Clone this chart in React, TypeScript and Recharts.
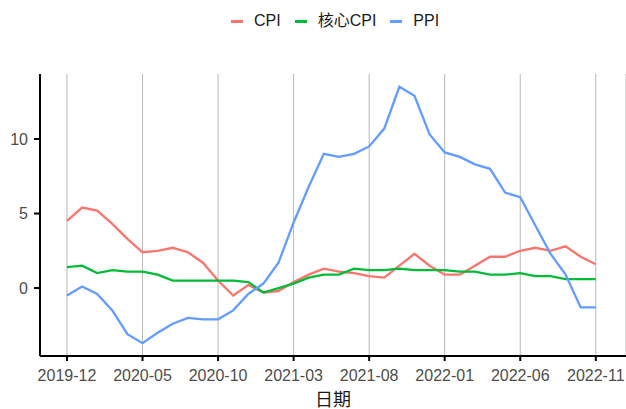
import React from 'react';
import { LineChart, Line, XAxis, YAxis, CartesianGrid } from 'recharts';

const months = [
  '2019-12',
  '2020-01', '2020-02', '2020-03', '2020-04', '2020-05', '2020-06',
  '2020-07', '2020-08', '2020-09', '2020-10', '2020-11', '2020-12',
  '2021-01', '2021-02', '2021-03', '2021-04', '2021-05', '2021-06',
  '2021-07', '2021-08', '2021-09', '2021-10', '2021-11', '2021-12',
  '2022-01', '2022-02', '2022-03', '2022-04', '2022-05', '2022-06',
  '2022-07', '2022-08', '2022-09', '2022-10', '2022-11',
];

const cpi = [
  4.5,
  5.4, 5.2, 4.3, 3.3, 2.4, 2.5,
  2.7, 2.4, 1.7, 0.5, -0.5, 0.2,
  -0.3, -0.2, 0.4, 0.9, 1.3, 1.1,
  1.0, 0.8, 0.7, 1.5, 2.3, 1.5,
  0.9, 0.9, 1.5, 2.1, 2.1, 2.5,
  2.7, 2.5, 2.8, 2.1, 1.6,
];

const coreCpi = [
  1.4,
  1.5, 1.0, 1.2, 1.1, 1.1, 0.9,
  0.5, 0.5, 0.5, 0.5, 0.5, 0.4,
  -0.3, 0.0, 0.3, 0.7, 0.9, 0.9,
  1.3, 1.2, 1.2, 1.3, 1.2, 1.2,
  1.2, 1.1, 1.1, 0.9, 0.9, 1.0,
  0.8, 0.8, 0.6, 0.6, 0.6,
];

const ppi = [
  -0.5,
  0.1, -0.4, -1.5, -3.1, -3.7, -3.0,
  -2.4, -2.0, -2.1, -2.1, -1.5, -0.4,
  0.3, 1.7, 4.4, 6.8, 9.0, 8.8,
  9.0, 9.5, 10.7, 13.5, 12.9, 10.3,
  9.1, 8.8, 8.3, 8.0, 6.4, 6.1,
  4.2, 2.3, 0.9, -1.3, -1.3,
];

const xTickLabels = ['2019-12', '2020-05', '2020-10', '2021-03', '2021-08', '2022-01', '2022-06', '2022-11'];
const yTicks = [0, 5, 10];

const series = [
  { key: 'CPI', name: 'CPI', color: '#F8766D' },
  { key: 'core', name: '核心CPI', color: '#00BA38' },
  { key: 'PPI', name: 'PPI', color: '#619CFF' },
];

const data = months.map((m, i) => ({ idx: i, month: m, CPI: cpi[i], core: coreCpi[i], PPI: ppi[i] }));

const FONT = '"Liberation Sans", Arial, "Noto Sans CJK SC", sans-serif';

export default function App() {
  return (
    <div style={{ position: 'absolute', left: 0, top: 0, width: 626, height: 409, background: '#fff', fontFamily: FONT }}>
      <div
        style={{
          position: 'absolute',
          top: 11,
          left: 231,
          display: 'flex',
          alignItems: 'center',
          fontSize: 16,
          lineHeight: '20px',
          color: '#1a1a1a',
          whiteSpace: 'nowrap',
        }}
      >
        {series.map((s, i) => (
          <div key={s.key} style={{ display: 'flex', alignItems: 'center', marginRight: i < series.length - 1 ? 14 : 0 }}>
            <span style={{ display: 'inline-block', width: 12, height: 3, background: s.color, marginRight: 11 }} />
            <span>{s.name}</span>
          </div>
        ))}
      </div>
      <LineChart width={626} height={409} data={data} margin={{ top: 74, right: 0, bottom: 0, left: 0 }}>
        <CartesianGrid horizontal={false} vertical={true} stroke="#b8b8b8" strokeWidth={1} />
        <XAxis
          dataKey="idx"
          type="number"
          domain={[-1.786, 37.0]}
          allowDataOverflow
          ticks={xTickLabels.map((l) => months.indexOf(l))}
          tickFormatter={(v: number) => months[v]}
          height={53}
          axisLine={{ stroke: '#000', strokeWidth: 2 }}
          tickLine={{ stroke: '#000', strokeWidth: 2 }}
          tickSize={5}
          tickMargin={9}
          tick={{ fill: '#4d4d4d', fontSize: 16, fontFamily: FONT }}
          label={{ value: '日期', position: 'insideBottom', offset: 3, fill: '#1a1a1a', fontSize: 18, fontFamily: FONT }}
        />
        <YAxis
          type="number"
          domain={[-4.56, 14.36]}
          allowDataOverflow
          ticks={yTicks}
          width={40}
          axisLine={{ stroke: '#000', strokeWidth: 2 }}
          tickLine={{ stroke: '#000', strokeWidth: 2 }}
          tickSize={6}
          tickMargin={6}
          tick={{ fill: '#4d4d4d', fontSize: 16, fontFamily: FONT }}
        />
        {series.map((s) => (
          <Line
            key={s.key}
            type="linear"
            dataKey={s.key}
            name={s.name}
            stroke={s.color}
            strokeWidth={2.3}
            dot={false}
            activeDot={false}
            isAnimationActive={false}
          />
        ))}
      </LineChart>
    </div>
  );
}
